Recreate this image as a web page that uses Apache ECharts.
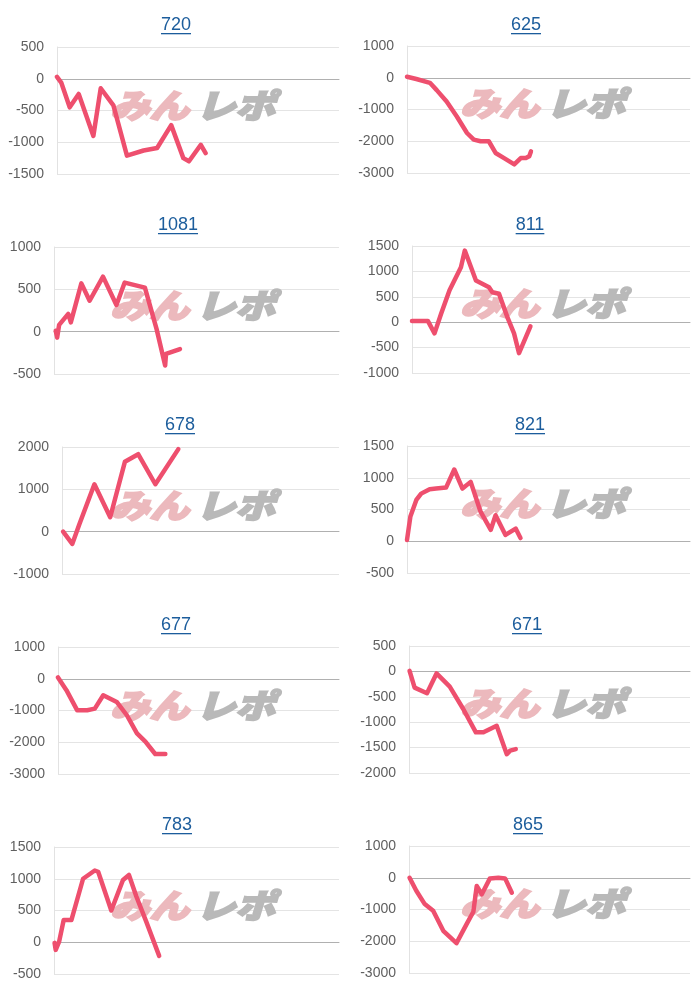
<!DOCTYPE html>
<html><head><meta charset="utf-8">
<script src="https://cdn.jsdelivr.net/npm/echarts@6/dist/echarts.min.js"></script>
<style>html,body{margin:0;padding:0;background:#fff}#c{width:700px;height:1000px}</style>
</head><body><div id="c"></div>
<script>
// ---- data ----
const titles = ['720','625','1081','811','678','821','677','671','783','865'];
const yMins = [-1500,-3000,-500,-1000,-1000,-500,-3000,-2000,-500,-3000];
const yMaxs = [500,1000,1000,1500,2000,1500,1000,500,1500,1000];
const yIntervals = [500,1000,500,500,1000,500,1000,500,500,1000];
const xMax = 100;

const x720 = [0,1.5,4.5,7.7,12.9,15.5,20,24.8,30.7,35.5,40.5,44.8,46.8,51,52.7];
const y720 = [30,-60,-450,-240,-900,-150,-420,-1210,-1130,-1090,-730,-1250,-1300,-1040,-1170];
const x625 = [0,3.3,8.1,10.5,14,17.6,21.2,23.6,26,28.9,31.3,34.3,37.9,40.2,42,43.2,43.8];
const y625 = [30,-40,-160,-390,-750,-1220,-1740,-1950,-2000,-2000,-2370,-2530,-2730,-2530,-2530,-2470,-2320];
const x1081 = [0.6,1.1,1.8,5,5.9,9.6,12.5,17.2,21.9,24.8,31.9,36,39,39.3,44.2];
const y1081 = [10,-70,80,210,110,570,365,650,315,580,520,30,-400,-263,-205];
const x811 = [0,5.7,8.1,10.5,13.5,17.6,19,23,27.7,28.9,31.3,34.3,36.7,38.5,42.6];
const y811 = [25,25,-220,170,630,1080,1410,820,690,590,560,100,-220,-610,-80];
const x678 = [0.4,3.7,6.3,11.7,17.4,22.7,27.5,33.7,42];
const y678 = [0,-290,180,1120,340,1650,1830,1120,1950];
const x821 = [0,1.2,3.3,5,8,10.3,13.8,16.7,19.6,22.5,26,29.6,31.3,34.8,38.4,40.1];
const y821 = [20,390,650,750,820,830,845,1130,830,935,465,180,410,100,200,50];
const x677 = [0,3,6.8,10.4,13.1,16.1,20.9,24.5,28.1,31.1,34.6,38.2];
const y677 = [40,-360,-990,-990,-940,-520,-730,-1150,-1720,-1980,-2370,-2370];
const x671 = [0.2,2,6.4,9.8,14.5,19.3,23.8,26.5,31.2,34.8,36,38];
const y671 = [10,-320,-430,-40,-300,-740,-1200,-1200,-1070,-1630,-1560,-1530];
const x783 = [0.2,0.6,1.8,3.4,6.1,10.2,14.3,15.5,20.1,24.2,26.3,28.9,32.4,36.9];
const y783 = [-10,-120,10,350,350,1000,1130,1110,500,980,1060,720,320,-215];
const x865 = [0.2,2.6,5.6,8.6,12.2,16.9,20.5,22.9,24.1,24.7,25.9,28.8,31.8,34.2,36.6];
const y865 = [0,-410,-830,-1040,-1670,-2060,-1460,-1070,-260,-260,-520,-20,0,-20,-470];

const xsList = [x720,x625,x1081,x811,x678,x821,x677,x671,x783,x865];
const ysList = [y720,y625,y1081,y811,y678,y821,y677,y671,y783,y865];

// ---- layout ----
const gridLefts = [57,407,54,412,62,407,58,409,54,409];
const titleCx = [176,526,178,530,180,530,176,527,177,528];

const chart = echarts.init(document.getElementById('c'), null, {renderer:'canvas'});
const grids=[], xAxes=[], yAxes=[], series=[], graphics=[];
const mctx = document.createElement('canvas').getContext('2d');
mctx.font = '18px "Liberation Sans", Arial, sans-serif';

titles.forEach((t,i)=>{
  const row = Math.floor(i/2), col = i%2;
  const top = 47 + 200*row - col;
  const right = col===0 ? 700-339 : 700-690;
  grids.push({left:gridLefts[i], right:right, top:top, height:127, containLabel:false});
  xAxes.push({gridIndex:i, type:'value', min:0, max:xMax, axisLabel:{show:false}, axisTick:{show:false},
    splitLine:{show:false}, axisLine:{show:true, onZero:true, lineStyle:{color:'#b0b0b0', width:1}}});
  yAxes.push({gridIndex:i, type:'value', min:yMins[i], max:yMaxs[i], interval:yIntervals[i],
    axisLine:{show:true, lineStyle:{color:'#e2e2e2'}}, axisTick:{show:false},
    axisLabel:{color:'#606060', fontSize:14, margin:13, fontFamily:'"Liberation Sans", Arial, sans-serif',
      formatter:(v)=>String(v)},
    splitLine:{lineStyle:{color:'#e4e4e4'}}});
  const data = xsList[i].map((x,k)=>[x, ysList[i][k]]);
  series.push({type:'line', xAxisIndex:i, yAxisIndex:i, data:data, symbol:'none', smooth:false, z:5,
    lineStyle:{color:'#ee4f6e', width:4.5, join:'round', cap:'round'}, animation:false});
  // title + underline
  const ty = 25 + 200*row;
  graphics.push({type:'text', x:titleCx[i], y:ty, z:10,
    style:{text:t, fill:'#1c5d9c', font:'18px "Liberation Sans", Arial, sans-serif', textAlign:'center', textVerticalAlign:'middle'}});
  const w = mctx.measureText(t).width;
  graphics.push({type:'rect', z:10, shape:{x:titleCx[i]-w/2, y:ty+8, width:w, height:1.3}, style:{fill:'#1c5d9c'}});
  // watermark
  const wx = col===0 ? 110 : 460;
  const wy = 105 + 200*row - col*2;
  graphics.push({type:'text', x:wx, y:wy, z:1, scaleX:1.2,
    style:{text:'みん', fill:'#ecb9bd', stroke:'#ecb9bd', lineWidth:2, font:'italic 900 33px "Noto Sans CJK JP", sans-serif', textVerticalAlign:'middle'}});
  graphics.push({type:'text', x:wx+86, y:wy, z:1, scaleX:1.2,
    style:{text:'レポ', fill:'#b9b9b9', stroke:'#b9b9b9', lineWidth:2, font:'italic 900 33px "Noto Sans CJK JP", sans-serif', textVerticalAlign:'middle'}});
});

chart.setOption({animation:false, grid:grids, xAxis:xAxes, yAxis:yAxes, series:series, graphic:graphics});
</script></body></html>
